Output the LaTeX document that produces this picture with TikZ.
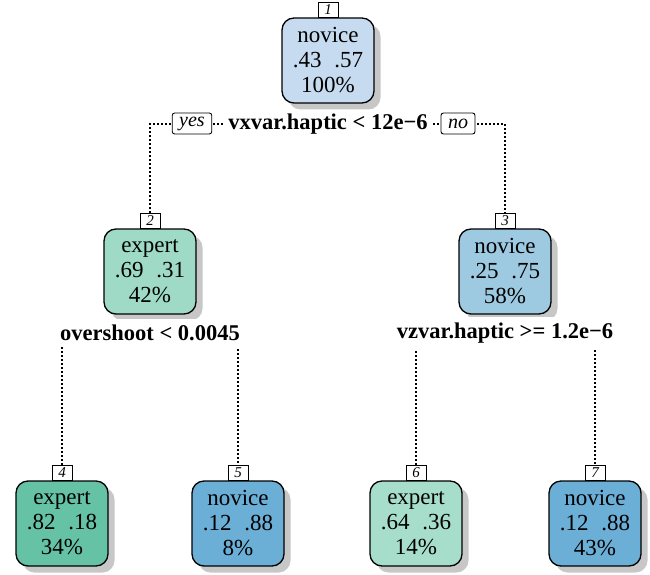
\documentclass[tikz,border=0pt]{standalone}
\usepackage{fontspec}
\setmainfont{Liberation Serif}
\usetikzlibrary{shadows}
\definecolor{cA}{HTML}{C6DBEF}
\definecolor{cB}{HTML}{9FDAC6}
\definecolor{cC}{HTML}{9ECAE1}
\definecolor{cD}{HTML}{66C2A5}
\definecolor{cE}{HTML}{6BAED6}
\definecolor{cF}{HTML}{A6DDCB}
\tikzset{
  treebox/.style={draw=black, line width=1.3pt, rounded corners=12pt,
    minimum width=92pt, minimum height=85pt, inner sep=0pt, align=center,
    font=\fontsize{23}{25}\selectfont,
    drop shadow={fill=black!22, opacity=1, shadow xshift=6.5pt, shadow yshift=-6.5pt}},
  numbox/.style={draw=black, line width=0.8pt, fill=white, minimum width=20pt,
    minimum height=15pt, inner sep=0pt, anchor=south, font=\fontsize{15}{15}\selectfont\itshape},
  splitlab/.style={fill=white, inner sep=3pt, font=\fontsize{22.5}{25}\selectfont\bfseries},
  yn/.style={draw=black, line width=0.9pt, fill=white, rounded corners=2.5pt, inner xsep=7pt,
    inner ysep=0pt, minimum height=21pt, font=\fontsize{20}{20}\selectfont\itshape},
  conn/.style={line width=1.1pt, dash pattern=on 1.1pt off 2.9pt}
}
\newcommand{\probs}[2]{#1\hspace{0.55em}#2}
\begin{document}
\begin{tikzpicture}[x=1pt,y=-1pt]
\useasboundingbox (0,0) rectangle (650,575);
% nodes
\node[treebox, fill=cA] (n1) at (328,60.5) {novice\\\probs{.43}{.57}\\100\%};
\node[treebox, fill=cB] (n2) at (150,271.5) {expert\\\probs{.69}{.31}\\42\%};
\node[treebox, fill=cC] (n3) at (505,271.5) {novice\\\probs{.25}{.75}\\58\%};
\node[treebox, fill=cD] (n4) at (62,523.5) {expert\\\probs{.82}{.18}\\34\%};
\node[treebox, fill=cE] (n5) at (238,523.5) {novice\\\probs{.12}{.88}\\8\%};
\node[treebox, fill=cF] (n6) at (416,523.5) {expert\\\probs{.64}{.36}\\14\%};
\node[treebox, fill=cE] (n7) at (595,523.5) {novice\\\probs{.12}{.88}\\43\%};
% number labels
\node[numbox] (k1) at (n1.north) {1};
\node[numbox] (k2) at (n2.north) {2};
\node[numbox] (k3) at (n3.north) {3};
\node[numbox] (k4) at (n4.north) {4};
\node[numbox] (k5) at (n5.north) {5};
\node[numbox] (k6) at (n6.north) {6};
\node[numbox] (k7) at (n7.north) {7};
% connectors
\coordinate (a1) at (150,124);
\coordinate (a2) at (505,124);
\coordinate (b1) at (62,333);
\coordinate (b2) at (238,333);
\coordinate (c1) at (416,333);
\coordinate (c2) at (595,333);
\draw[conn] (k2.north) -- (a1) -- (a2) -- (k3.north);
\draw[conn] (k4.north) -- (b1) -- (b2) -- (k5.north);
\draw[conn] (k6.north) -- (c1) -- (c2) -- (k7.north);
% split labels
\node[splitlab] (s1) at (328,124) {vxvar.haptic < 12e−6};
\node[yn] (yes) at (192,123.5) {yes};
\node[yn] (no) at (458,123.5) {no};
\node[splitlab, inner ysep=6pt] (s2) at (150,333) {overshoot < 0.0045};
\node[splitlab, inner ysep=6pt] (s3) at (505,333) {vzvar.haptic >= 1.2e−6};
\end{tikzpicture}
\end{document}
